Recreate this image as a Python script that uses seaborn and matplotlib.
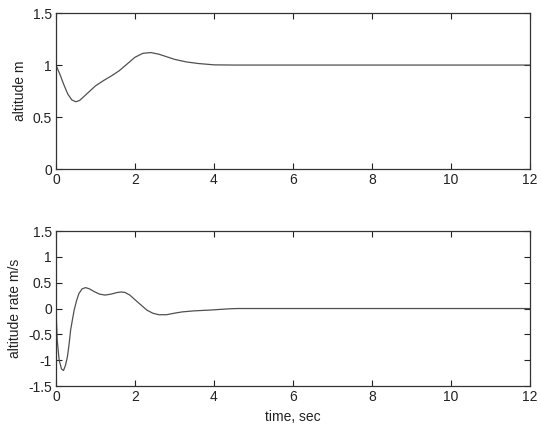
import matplotlib
matplotlib.use("Agg")
import matplotlib.pyplot as plt
import seaborn as sns
import pandas as pd

# altitude response
t_alt = [0, 0.1, 0.2, 0.3, 0.4, 0.5, 0.6, 0.8, 1.0, 1.2, 1.4, 1.6, 1.8, 2.0, 2.2,
         2.4, 2.6, 2.8, 3.0, 3.3, 3.6, 4.0, 4.5, 12]
altitude = [1.0, 0.91, 0.81, 0.72, 0.665, 0.647, 0.66, 0.73, 0.80, 0.85, 0.895, 0.945,
            1.01, 1.075, 1.113, 1.12, 1.105, 1.08, 1.055, 1.03, 1.015, 1.002, 1.0, 1.0]

# altitude rate response
t_rate = [0, 0.03, 0.08, 0.14, 0.19, 0.24, 0.29, 0.33, 0.37, 0.42, 0.46, 0.52, 0.58,
          0.66, 0.75, 0.85, 0.96, 1.1, 1.24, 1.4, 1.55, 1.65, 1.75, 1.87, 2.0, 2.15,
          2.3, 2.45, 2.6, 2.8, 3.0, 3.2, 3.5, 3.9, 4.4, 4.6, 12]
rate = [0, -0.6, -1.0, -1.17, -1.2, -1.1, -0.93, -0.7, -0.42, -0.2, -0.03, 0.15, 0.29,
        0.38, 0.405, 0.38, 0.33, 0.28, 0.26, 0.28, 0.31, 0.32, 0.31, 0.26, 0.17, 0.07,
        -0.03, -0.09, -0.12, -0.12, -0.09, -0.065, -0.045, -0.03, -0.005, 0.0, 0.0]

x_ticks = [0, 2, 4, 6, 8, 10, 12]
x_ticklabels = ["0", "2", "4", "6", "8", "10", "12"]
alt_ticks = [0, 0.5, 1, 1.5]
alt_ticklabels = ["0", "0.5", "1", "1.5"]
rate_ticks = [-1.5, -1, -0.5, 0, 0.5, 1, 1.5]
rate_ticklabels = ["-1.5", "-1", "-0.5", "0", "0.5", "1", "1.5"]

sns.set_style("ticks")
plt.rcParams["font.family"] = ["Liberation Sans", "DejaVu Sans"]
plt.rcParams["font.size"] = 10

df_alt = pd.DataFrame({"t": t_alt, "v": altitude})
df_rate = pd.DataFrame({"t": t_rate, "v": rate})

fig = plt.figure(figsize=(5.41, 4.28), dpi=100)
ax1 = fig.add_axes([0.1035, 0.605, 0.876, 0.3645])
ax2 = fig.add_axes([0.1035, 0.0981, 0.876, 0.3621])

line_color = "#505050"
sns.lineplot(data=df_alt, x="t", y="v", ax=ax1, color=line_color, linewidth=0.9)
sns.lineplot(data=df_rate, x="t", y="v", ax=ax2, color=line_color, linewidth=0.9)

for ax, yt, ytl in [(ax1, alt_ticks, alt_ticklabels), (ax2, rate_ticks, rate_ticklabels)]:
    ax.set_xlim(0, 12)
    ax.set_ylim(yt[0], yt[-1])
    ax.set_xticks(x_ticks)
    ax.set_xticklabels(x_ticklabels)
    ax.set_yticks(yt)
    ax.set_yticklabels(ytl)
    ax.tick_params(direction="in", top=True, right=True, length=4, width=0.8,
                   labelsize=10, colors="#222222", pad=3)
    for s in ax.spines.values():
        s.set_visible(True)
        s.set_color("#333333")
        s.set_linewidth(0.9)
    ax.set_xlabel("")

ax1.set_ylabel("altitude m", fontsize=10, color="#222222")
ax2.set_ylabel("altitude rate m/s", fontsize=10, color="#222222")
ax2.set_xlabel("time, sec", fontsize=10, color="#222222")

fig.savefig("out.png", dpi=100, facecolor="white")
